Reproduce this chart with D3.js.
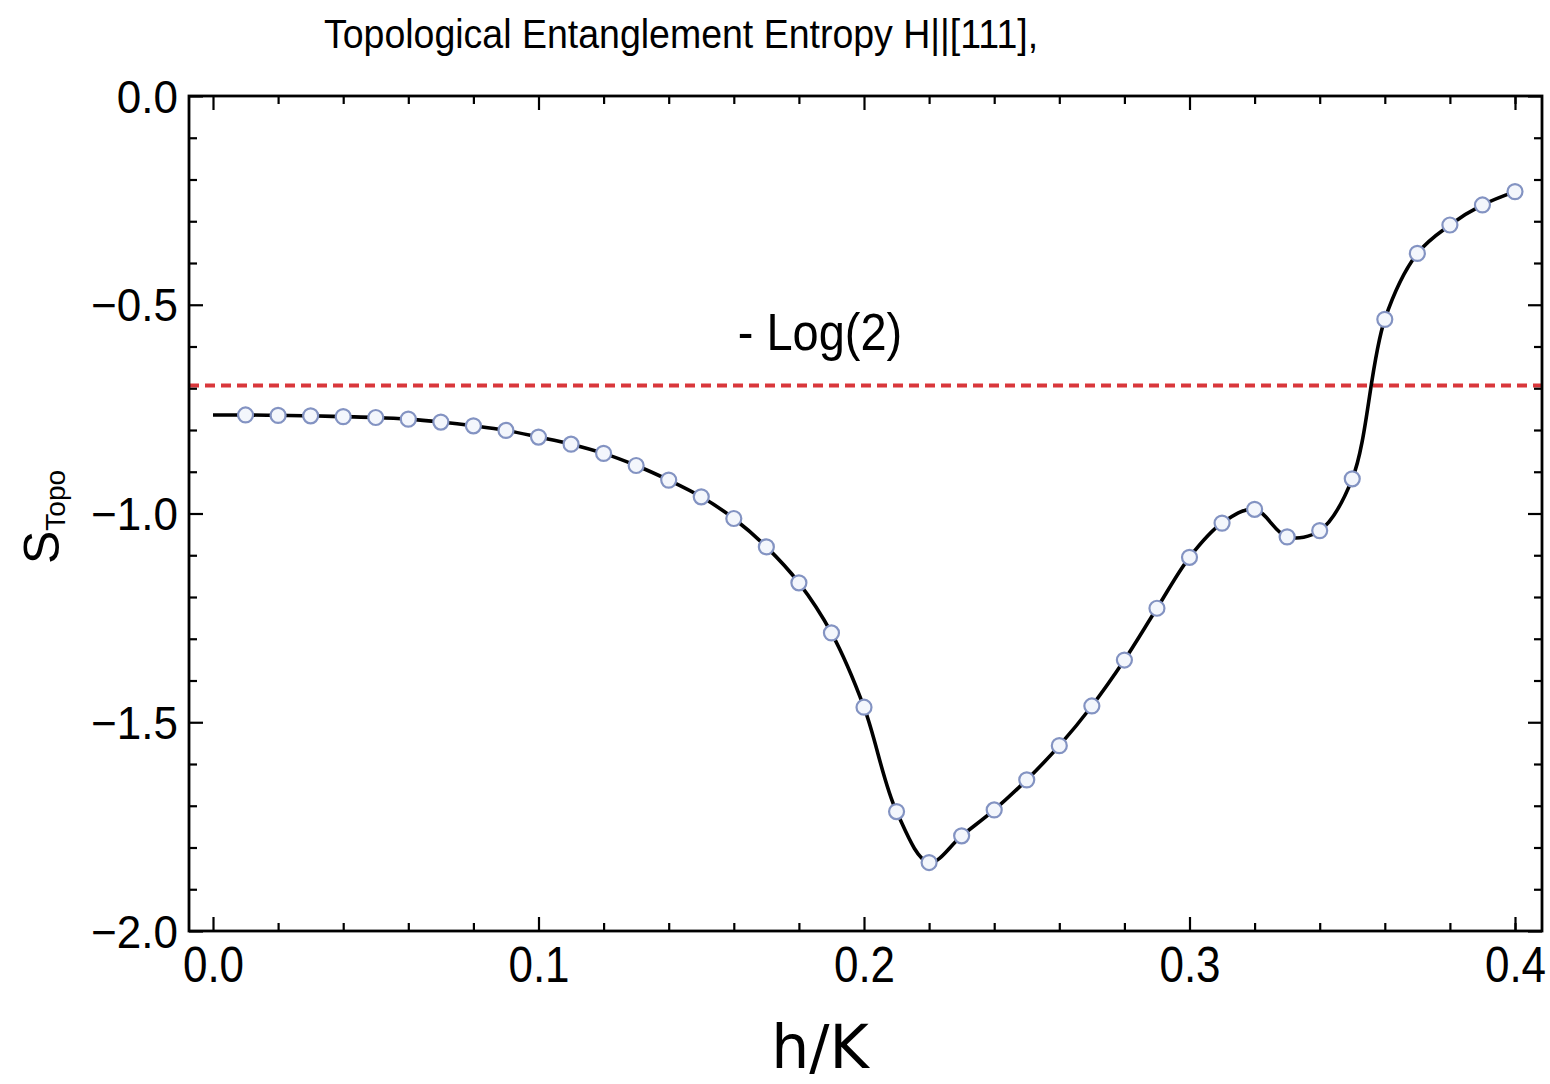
<!DOCTYPE html>
<html>
<head>
<meta charset="utf-8">
<script src="https://cdn.jsdelivr.net/npm/d3@7"></script>
<style>
  html, body { margin: 0; padding: 0; background: #ffffff; }
  svg { display: block; }
  text { font-family: "Liberation Sans", Arial, sans-serif; fill: #000; }
</style>
</head>
<body>
<svg id="chart" width="1550" height="1084"></svg>
<script>
// Field strength h/K at which S_Topo was computed
const hValues = [0.01, 0.02, 0.03, 0.04, 0.05, 0.06, 0.07, 0.08, 0.09, 0.10,
                 0.11, 0.12, 0.13, 0.14, 0.15, 0.16, 0.17, 0.18, 0.19, 0.20,
                 0.21, 0.22, 0.23, 0.24, 0.25, 0.26, 0.27, 0.28, 0.29, 0.30,
                 0.31, 0.32, 0.33, 0.34, 0.35, 0.36, 0.37, 0.38, 0.39, 0.40];
// Topological entanglement entropy at each field value
const sTopo = [-0.764, -0.765, -0.766, -0.768, -0.770, -0.774, -0.781, -0.790, -0.801, -0.817,
               -0.834, -0.856, -0.885, -0.920, -0.960, -1.012, -1.080, -1.166, -1.286, -1.464,
               -1.714, -1.836, -1.772, -1.710, -1.638, -1.556, -1.461, -1.351, -1.227, -1.105,
               -1.023, -0.990, -1.056, -1.041, -0.917, -0.535, -0.377, -0.309, -0.261, -0.229];
// Interpolated curve starts at zero field
const curveStartH = 0.0;
const curveStartS = -0.764;
// Reference level -log 2
const refLevel = -Math.log(2);

const xMajorTicks = [0.0, 0.1, 0.2, 0.3, 0.4];
const xMinorTicks = [0.02, 0.04, 0.06, 0.08, 0.12, 0.14, 0.16, 0.18, 0.22, 0.24, 0.26, 0.28,
                     0.32, 0.34, 0.36, 0.38, 0.40];
const yMajorTicks = [0.0, -0.5, -1.0, -1.5, -2.0];
const yMinorTicks = [-0.1, -0.2, -0.3, -0.4, -0.6, -0.7, -0.8, -0.9, -1.1, -1.2, -1.3, -1.4,
                     -1.6, -1.7, -1.8, -1.9];

const titleText = "Topological Entanglement Entropy H||[111],";
const refLabel = "- Log(2)";
const xTitle = "h/K";

// ---- layout ----
const frame = { left: 189, right: 1542, top: 96, bottom: 931 };
const svg = d3.select("#chart");

const x = d3.scaleLinear().domain([0, 0.4]).range([213, 1515]);
const y = d3.scaleLinear().domain([-2, 0]).range([frame.bottom, frame.top]);

const fmtX = d => d.toFixed(1);
const fmtY = d => (d < 0 ? "\u2212" : "") + Math.abs(d).toFixed(1);

// reference level
svg.append("line")
  .attr("x1", frame.left).attr("x2", frame.right)
  .attr("y1", y(refLevel)).attr("y2", y(refLevel))
  .attr("stroke", "#d9373b").attr("stroke-width", 4)
  .attr("stroke-dasharray", "10,6");

// interpolated curve
const curvePts = [[curveStartH, curveStartS]].concat(hValues.map((h, i) => [h, sTopo[i]]));
svg.append("path")
  .datum(curvePts)
  .attr("fill", "none")
  .attr("stroke", "#000")
  .attr("stroke-width", 3.6)
  .attr("d", d3.line().x(d => x(d[0])).y(d => y(d[1])).curve(d3.curveCatmullRom.alpha(0.5)));

// sample markers
svg.append("g").selectAll("circle")
  .data(hValues.map((h, i) => [h, sTopo[i]]))
  .join("circle")
  .attr("cx", d => x(d[0])).attr("cy", d => y(d[1]))
  .attr("r", 7.5)
  .attr("fill", "#f3f6fc")
  .attr("stroke", "#8393c2")
  .attr("stroke-width", 2.2);

// ---- frame axes (ticks point inward) ----
function styleAxis(g) {
  g.select(".domain").remove();
  g.selectAll(".tick line").attr("stroke", "#000").attr("stroke-width", 2.2);
}

// bottom
svg.append("g").attr("transform", `translate(0,${frame.bottom})`)
  .call(d3.axisBottom(x).tickValues(xMinorTicks).tickSize(-8).tickFormat(""))
  .call(styleAxis);
const bottomMajor = svg.append("g").attr("transform", `translate(0,${frame.bottom})`)
  .call(d3.axisBottom(x).tickValues(xMajorTicks).tickSize(-14).tickFormat(fmtX))
  .call(styleAxis);
bottomMajor.selectAll(".tick text")
  .attr("y", null).attr("dy", null)
  .attr("transform", "translate(0,51) scale(1,1.14)")
  .style("font-size", "44px")
  .attr("text-anchor", "middle");

// top
svg.append("g").attr("transform", `translate(0,${frame.top})`)
  .call(d3.axisTop(x).tickValues(xMinorTicks).tickSize(-8).tickFormat(""))
  .call(styleAxis);
svg.append("g").attr("transform", `translate(0,${frame.top})`)
  .call(d3.axisTop(x).tickValues(xMajorTicks).tickSize(-14).tickFormat(""))
  .call(styleAxis);

// left
svg.append("g").attr("transform", `translate(${frame.left},0)`)
  .call(d3.axisLeft(y).tickValues(yMinorTicks).tickSize(-8).tickFormat(""))
  .call(styleAxis);
const leftMajor = svg.append("g").attr("transform", `translate(${frame.left},0)`)
  .call(d3.axisLeft(y).tickValues(yMajorTicks).tickSize(-14).tickFormat(fmtY))
  .call(styleAxis);
leftMajor.selectAll(".tick text")
  .attr("x", null).attr("dy", null)
  .attr("transform", "translate(-11,16) scale(1,1.05)")
  .style("font-size", "44px")
  .attr("text-anchor", "end");

// right
svg.append("g").attr("transform", `translate(${frame.right},0)`)
  .call(d3.axisRight(y).tickValues(yMinorTicks).tickSize(-8).tickFormat(""))
  .call(styleAxis);
svg.append("g").attr("transform", `translate(${frame.right},0)`)
  .call(d3.axisRight(y).tickValues(yMajorTicks).tickSize(-14).tickFormat(""))
  .call(styleAxis);

// frame border
svg.append("rect")
  .attr("x", frame.left).attr("y", frame.top)
  .attr("width", frame.right - frame.left).attr("height", frame.bottom - frame.top)
  .attr("fill", "none").attr("stroke", "#000").attr("stroke-width", 2.8);

// ---- text ----
svg.append("text")
  .attr("transform", "translate(681,48) scale(1,1.08)")
  .attr("text-anchor", "middle")
  .style("font-size", "37.5px")
  .text(titleText);

svg.append("text")
  .attr("transform", "translate(820,350) scale(1,1.1)")
  .attr("text-anchor", "middle")
  .style("font-size", "47px")
  .text(refLabel);

const yLab = svg.append("text")
  .attr("transform", "translate(59,517) rotate(-90)")
  .attr("text-anchor", "middle");
yLab.append("tspan").style("font-size", "50px").text("S");
yLab.append("tspan").style("font-size", "28px").attr("dy", 6).text("Topo");

svg.append("text")
  .attr("x", 820).attr("y", 1068)
  .attr("text-anchor", "middle")
  .style("font-family", "'DejaVu Sans', sans-serif")
  .style("font-size", "60px")
  .text(xTitle);
</script>
</body>
</html>
